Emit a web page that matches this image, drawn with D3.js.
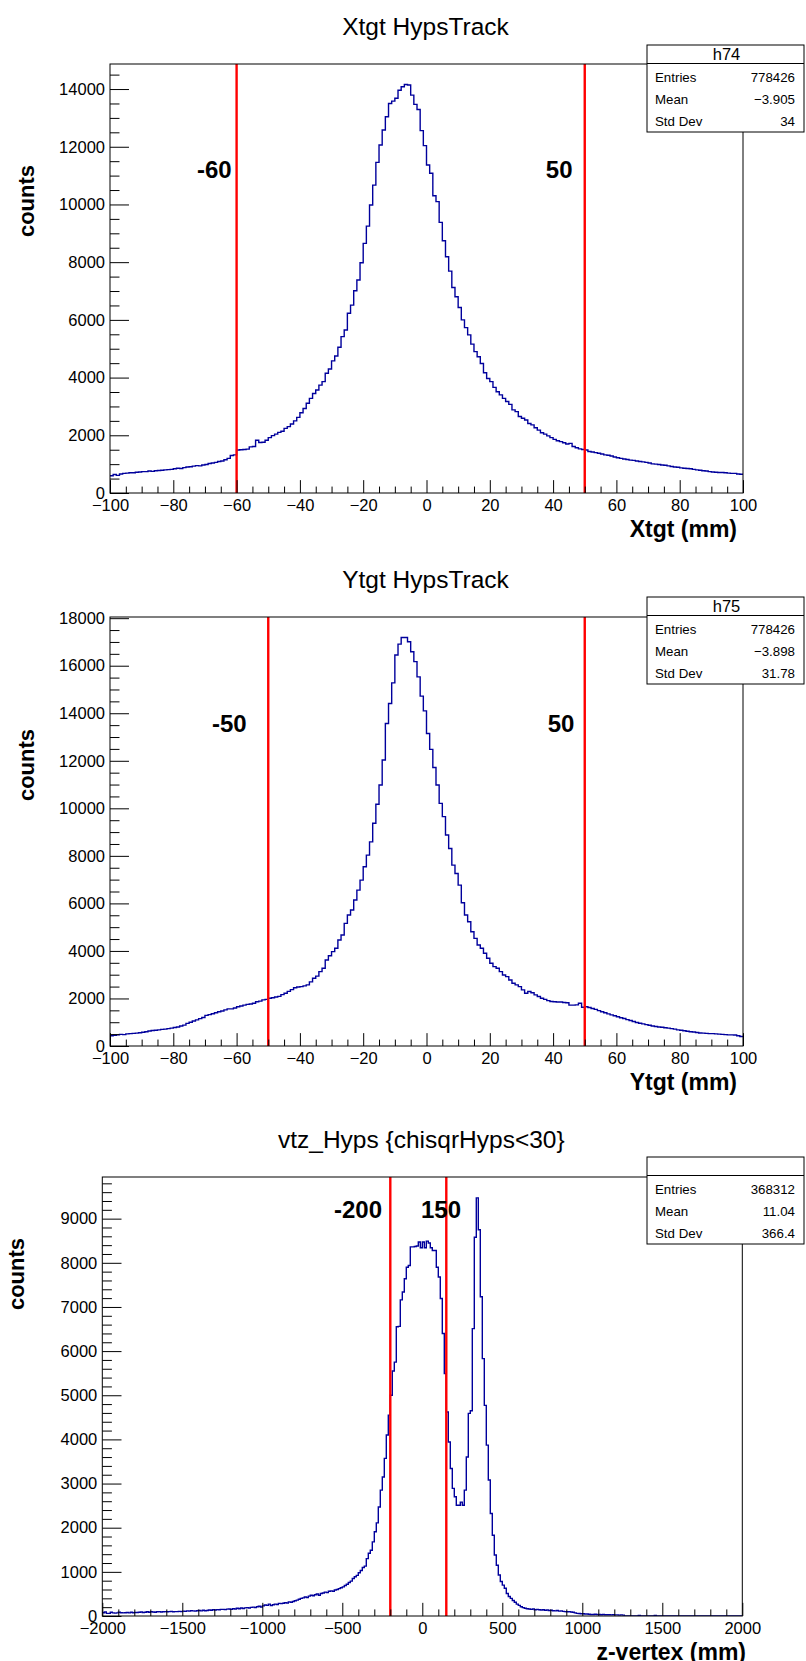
<!DOCTYPE html>
<html><head><meta charset="utf-8">
<script src="https://cdn.jsdelivr.net/npm/d3@7"></script>
<style>
body{margin:0;background:#fff}
svg{display:block}
text{font-family:"Liberation Sans", Arial, Helvetica, sans-serif;fill:#000}
</style></head><body>
<svg id="c" width="806" height="1661"></svg>
<script>
// ---------------- DATA ----------------
// Panel 1: Xtgt HypsTrack, 200 bins from -100 to 100 mm
const p1Range = [-100, 100];
const p1Counts = [
 600,640,610,660,680,690,700,700,720,730,
 740,740,760,750,770,780,790,800,810,820,
 840,860,850,880,900,910,930,950,940,970,
 990,1020,1040,1060,1090,1110,1150,1200,1300,1320,
 1490,1500,1510,1520,1600,1610,1830,1750,1760,1830,
 1920,1990,2040,2100,2140,2240,2300,2390,2500,2620,
 2780,2930,3110,3280,3450,3570,3740,3860,4150,4300,
 4580,4750,5050,5420,5650,6230,6510,7010,7380,7980,
 8650,9250,9980,10670,11460,12060,12580,13040,13500,13580,
 13680,13960,14080,14160,14140,13790,13470,13290,12560,12040,
 11370,11080,10300,10100,9380,8740,8190,7690,7120,6800,
 6430,6000,5730,5480,5160,4900,4720,4490,4170,3970,
 3860,3660,3510,3400,3280,3170,3070,2880,2820,2650,
 2590,2530,2410,2360,2260,2180,2090,2040,1980,1920,
 1860,1810,1780,1740,1700,1720,1610,1570,1530,1510,
 1490,1440,1420,1400,1380,1350,1320,1310,1280,1250,
 1220,1200,1180,1160,1140,1130,1110,1090,1080,1060,
 1040,1010,1000,990,970,960,940,920,900,890,
 870,860,850,840,820,800,790,770,760,740,
 730,720,710,710,700,690,680,680,660,650
];
const p1Cuts = [-60, 50];
const p1CutLabels = ["-60", "50"];
const p1CutLabelX = [-72.5, 37.7];
const p1CutLabelY = 10915;
const p1XTicks = [-100,-80,-60,-40,-20,0,20,40,60,80,100];
const p1YTicks = [0,2000,4000,6000,8000,10000,12000,14000];
const p1StatValues = [778426, -3.905, 34];

// Panel 2: Ytgt HypsTrack, 200 bins from -100 to 100 mm
const p2Range = [-100, 100];
const p2Counts = [
 430,450,470,490,480,510,520,530,540,560,
 580,600,630,650,660,680,700,710,730,750,
 780,800,840,880,950,1000,1050,1100,1150,1200,
 1290,1320,1360,1400,1440,1470,1520,1560,1560,1600,
 1650,1680,1720,1750,1770,1800,1860,1890,1940,1960,
 2010,2030,2060,2090,2160,2220,2300,2370,2450,2480,
 2500,2530,2570,2700,2850,2940,3130,3270,3620,3800,
 3970,4110,4460,4670,5160,5510,5720,6140,6560,6980,
 7540,8030,8590,9370,10170,10980,12030,13570,14410,15280,
 16450,16910,17190,17190,17010,16590,16170,15530,14720,14100,
 13150,12480,11720,10980,10210,9650,8880,8310,7610,7260,
 6770,6030,5510,5230,4810,4530,4250,4110,3900,3690,
 3480,3340,3270,3130,2990,2920,2780,2640,2570,2500,
 2360,2220,2290,2240,2150,2080,2010,1960,1910,1870,
 1860,1850,1850,1830,1820,1720,1720,1730,1800,1630,
 1650,1620,1580,1540,1490,1440,1400,1350,1310,1270,
 1230,1190,1160,1110,1070,1030,990,960,930,900,
 870,840,820,800,790,770,750,730,710,680,
 660,640,620,600,590,570,550,540,530,520,
 520,510,500,490,480,470,470,460,430,400
];
const p2Cuts = [-50, 50];
const p2CutLabels = ["-50", "50"];
const p2CutLabelX = [-67.8, 38.3];
const p2CutLabelY = 13200;
const p2XTicks = [-100,-80,-60,-40,-20,0,20,40,60,80,100];
const p2YTicks = [0,2000,4000,6000,8000,10000,12000,14000,16000,18000];
const p2StatValues = [778426, -3.898, 31.78];

// Panel 3: vtz_Hyps, 320 bins from -2000 to 2000 mm
const p3Range = [-2000, 2000];
const p3Counts = [
 75,90,60,60,85,70,65,70,85,75, 70,75,80,70,85,75,80,80,85,90,
 80,85,95,85,95,90,85,95,100,90, 95,100,95,100,105,95,100,100,105,100,
 110,105,115,110,120,115,110,120,125,115, 130,120,125,135,130,140,135,145,140,150,
 150,145,155,160,150,165,160,175,165,180, 170,185,190,180,195,200,190,210,220,205,
 230,250,240,270,235,255,270,260,285,280, 290,300,295,320,310,330,345,360,380,400,
 410,430,420,450,470,460,480,500,470,510, 520,540,530,560,570,560,590,600,620,640,
 660,690,720,760,790,850,890,920,980,1030, 1100,1130,1300,1420,1490,1680,1910,2110,2470,2850,
 3150,3570,4100,4550,5000,5550,5750,6550,6560,7160, 7340,7640,7900,7940,8360,8360,8370,8380,8470,8340,
 8470,8340,8490,8450,8340,8280,8280,7900,7680,7190, 6400,5490,4620,3940,3340,2890,2700,2510,2510,2580,
 2510,2850,3600,4590,4650,6510,8580,9470,8750,7230, 5830,4770,3870,3080,2320,1830,1380,1150,930,780,
 700,630,510,440,400,350,310,270,240,210, 190,175,165,160,150,160,140,150,140,135,
 140,130,135,125,130,120,115,125,110,115, 105,100,95,100,90,85,70,60,55,50,
 50,45,45,40,35,35,40,35,35,30, 35,30,30,30,25,30,25,25,20,25,
 20,0,0,0,0,0,0,0,15,0, 0,0,0,0,0,0,15,0,0,0,
 0,0,0,0,0,0,0,0,0,0, 0,0,0,0,0,0,0,0,0,0,
 0,0,0,0,0,0,0,0,0,0, 0,0,0,0,0,0,0,0,0,0
];
const p3Cuts = [-200, 150];
const p3CutLabels = ["-200", "150"];
const p3CutLabelX = [-552, -8];
const p3CutLabelY = 9005;
const p3XTicks = [-2000,-1500,-1000,-500,0,500,1000,1500,2000];
const p3YTicks = [0,1000,2000,3000,4000,5000,6000,7000,8000,9000];
const p3StatValues = [368312, 11.04, 366.4];

const statLabels = ["Entries", "Mean", "Std Dev"];

// ---------------- LAYOUT ----------------
const panels = [
 {title:"Xtgt HypsTrack", statName:"h74", stats:p1StatValues, counts:p1Counts, range:p1Range,
  cuts:p1Cuts, cutLabels:p1CutLabels, cutLabelX:p1CutLabelX, cutLabelY:p1CutLabelY,
  xTicks:p1XTicks, yTicks:p1YTicks, xMinor:5, yMinor:500, xTitle:"Xtgt (mm)",
  L:110, R:743, T:64, B:493, statTop:45, yTitleX:26, yTitleY:201, xTitleEnd:737},
 {title:"Ytgt HypsTrack", statName:"h75", stats:p2StatValues, counts:p2Counts, range:p2Range,
  cuts:p2Cuts, cutLabels:p2CutLabels, cutLabelX:p2CutLabelX, cutLabelY:p2CutLabelY,
  xTicks:p2XTicks, yTicks:p2YTicks, xMinor:5, yMinor:500, xTitle:"Ytgt (mm)",
  L:110, R:743, T:617, B:1046, statTop:597, yTitleX:26, yTitleY:765, xTitleEnd:737},
 {title:"vtz_Hyps {chisqrHyps<30}", statName:"", stats:p3StatValues, counts:p3Counts, range:p3Range,
  cuts:p3Cuts, cutLabels:p3CutLabels, cutLabelX:p3CutLabelX, cutLabelY:p3CutLabelY,
  xTicks:p3XTicks, yTicks:p3YTicks, xMinor:100, yMinor:200, xTitle:"z-vertex (mm)",
  L:102.3, R:742.3, T:1177, B:1616, statTop:1157, yTitleX:16, yTitleY:1274, xTitleEnd:746}
];

const svg = d3.select("#c");
const fmtNum = v => v < 0 ? "\u2212" + String(Math.abs(v)) : String(v);

panels.forEach((p, pi) => {
  const g = svg.append("g");
  const x = d3.scaleLinear().domain(p.range).range([p.L, p.R]);
  const ymax = d3.max(p.counts) * 1.05;
  const y = d3.scaleLinear().domain([0, ymax]).range([p.B, p.T]);
  const W = p.R - p.L, H = p.B - p.T;
  const xTick = H * 0.03, yTick = W * 0.03;

  // title
  g.append("text").attr("x", (p.L + p.R) / 2 - 1).attr("y", p.T - 29)
    .attr("text-anchor", "middle").attr("font-size", 24.5).text(p.title);

  // clip
  const cid = "clip" + pi;
  svg.append("clipPath").attr("id", cid).append("rect")
    .attr("x", p.L).attr("y", p.T).attr("width", W).attr("height", H);

  // histogram
  const n = p.counts.length;
  const bw = (p.range[1] - p.range[0]) / n;
  const pts = p.counts.map((c, i) => [x(p.range[0] + i * bw), y(c)]);
  pts.push([x(p.range[1]), y(p.counts[n - 1])]);
  g.append("path").attr("clip-path", `url(#${cid})`)
    .attr("d", d3.line().curve(d3.curveStepAfter)(pts))
    .attr("fill", "none").attr("stroke", "#00009c").attr("stroke-width", 1.4);

  // cut lines
  g.selectAll(".cut").data(p.cuts).enter().append("line")
    .attr("x1", d => x(d)).attr("x2", d => x(d))
    .attr("y1", p.B).attr("y2", p.T)
    .attr("stroke", "#ff0000").attr("stroke-width", 2.4);

  // cut labels
  g.selectAll(".cl").data(p.cutLabels).enter().append("text")
    .attr("x", (d, i) => x(p.cutLabelX[i])).attr("y", y(p.cutLabelY))
    .attr("font-size", 24).attr("font-weight", "bold").text(d => d);

  // axes
  const xMinorVals = d3.range(p.range[0], p.range[1] + 1e-9, p.xMinor).filter(v => !p.xTicks.includes(v));
  const yMinorVals = d3.range(0, ymax, p.yMinor).filter(v => !p.yTicks.includes(v));

  const xa = g.append("g").attr("transform", `translate(0,${p.B})`)
    .call(d3.axisBottom(x).tickValues(p.xTicks).tickSize(-xTick).tickPadding(6.5).tickFormat(d3.format("d")));
  xa.select(".domain").remove();
  xa.selectAll("text").attr("font-size", 16.5).attr("font-family", null).attr("fill", "#000");
  xa.selectAll("line").attr("stroke", "#000");
  const xm = g.append("g").attr("transform", `translate(0,${p.B})`)
    .call(d3.axisBottom(x).tickValues(xMinorVals).tickSize(-xTick / 2).tickFormat(""));
  xm.select(".domain").remove();
  xm.selectAll("line").attr("stroke", "#000");

  const ya = g.append("g").attr("transform", `translate(${p.L},0)`)
    .call(d3.axisLeft(y).tickValues(p.yTicks).tickSize(-yTick).tickPadding(5).tickFormat(d3.format("d")));
  ya.select(".domain").remove();
  ya.selectAll("text").attr("font-size", 16.5).attr("font-family", null).attr("fill", "#000");
  ya.selectAll("line").attr("stroke", "#000");
  const ym = g.append("g").attr("transform", `translate(${p.L},0)`)
    .call(d3.axisLeft(y).tickValues(yMinorVals).tickSize(-yTick / 2).tickFormat(""));
  ym.select(".domain").remove();
  ym.selectAll("line").attr("stroke", "#000");

  // frame
  g.append("rect").attr("x", p.L).attr("y", p.T).attr("width", W).attr("height", H)
    .attr("fill", "none").attr("stroke", "#000").attr("stroke-width", 1);

  // axis titles
  g.append("text").attr("x", p.xTitleEnd).attr("y", p.B + 44).attr("text-anchor", "end")
    .attr("font-size", 23).attr("font-weight", "bold").text(p.xTitle);
  g.append("text").attr("transform", `translate(${p.yTitleX},${p.yTitleY}) rotate(-90)`)
    .attr("text-anchor", "middle").attr("dy", "0.35em")
    .attr("font-size", 22).attr("font-weight", "bold").text("counts");

  // stats box
  const sx = 647, sw = 157, st = p.statTop, sh = 87, hh = 18.5;
  const sb = g.append("g");
  sb.append("rect").attr("x", sx).attr("y", st).attr("width", sw).attr("height", sh)
    .attr("fill", "#fff").attr("stroke", "#000").attr("stroke-width", 1);
  sb.append("line").attr("x1", sx).attr("x2", sx + sw).attr("y1", st + hh).attr("y2", st + hh)
    .attr("stroke", "#000").attr("stroke-width", 1);
  sb.append("text").attr("x", sx + sw / 2 + 1).attr("y", st + hh / 2).attr("dy", "0.36em")
    .attr("text-anchor", "middle").attr("font-size", 16.5).text(p.statName);
  statLabels.forEach((lab, i) => {
    const yy = st + 32.5 + i * 22;
    sb.append("text").attr("x", sx + 8).attr("y", yy).attr("dy", "0.36em")
      .attr("font-size", 13.3).text(lab);
    sb.append("text").attr("x", sx + sw - 9).attr("y", yy).attr("dy", "0.36em")
      .attr("text-anchor", "end").attr("font-size", 13.3).text(fmtNum(p.stats[i]));
  });
});
</script>
</body></html>
